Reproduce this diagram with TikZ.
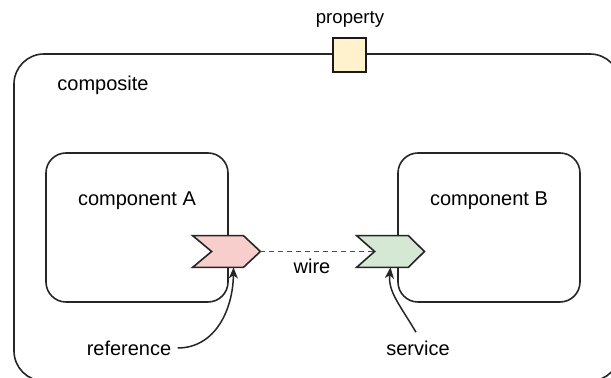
\documentclass[tikz,border=0pt]{standalone}
\usepackage{fontspec}
\setmainfont{Liberation Sans}
\usetikzlibrary{arrows.meta,calc}
\definecolor{refpink}{HTML}{F8CECC}
\definecolor{svcgreen}{HTML}{D5E8D4}
\definecolor{propyellow}{HTML}{FFF2CC}
\definecolor{wiregray}{HTML}{4D4D4D}
\tikzset{
  frame/.style={draw=black!85, line width=0.8pt, rounded corners=10pt, fill=none,
    minimum width=91pt, minimum height=74.5pt, inner sep=0pt},
  portbox/.style={draw=none, minimum width=33.5pt, minimum height=15.5pt, inner sep=0pt},
  portline/.style={draw=black!85, line width=0.8pt, line join=miter},
  txt/.style={inner sep=0pt, font=\fontsize{10}{12}\selectfont},
  callout/.style={draw=black!85, line width=0.75pt, -{Stealth[length=5.5pt,width=4.5pt,inset=1.5pt]}},
}
\begin{document}
\begin{tikzpicture}[x=0.5pt,y=-0.5pt]
\useasboundingbox (0,0) rectangle (611,378);
\clip (0,0) rectangle (611,378);
\fill[white] (0,0) rectangle (611,378);

% composite boundary (runs off the page to the right and bottom)
\draw[draw=black!85, line width=0.8pt, rounded corners=15pt] (14,54) rectangle (620,381);

% property on the composite edge
\node[draw=black!90, fill=propyellow, line width=0.8pt, minimum width=16.5pt, minimum height=17pt, inner sep=0pt] (prop) at (349.5,55) {};
\node[txt, font=\fontsize{9.3}{11}\selectfont] (proplabel) at (350,19) {property};
\node[txt] (complabel) at (103,85) {composite};

% components
\node[frame] (compA) at (137,227.5) {};
\node[frame] (compB) at (489,227.5) {};
\node[txt] (labelA) at (137,201) {component A};
\node[txt] (labelB) at (489,201) {component B};

% reference and service ports (chevrons)
\node[portbox] (refport) at (226.5,251.5) {};
\node[portbox] (svcport) at (390.5,251.5) {};
\filldraw[portline, fill=refpink]
  (refport.north west) -- ([xshift=-8.5pt]refport.north east) -- (refport.east)
  -- ([xshift=-8.5pt]refport.south east) -- (refport.south west)
  -- ([xshift=9.5pt]refport.west) -- cycle;
\filldraw[portline, fill=svcgreen]
  (svcport.north west) -- ([xshift=-8pt]svcport.north east) -- (svcport.east)
  -- ([xshift=-8pt]svcport.south east) -- (svcport.south west)
  -- ([xshift=9pt]svcport.west) -- cycle;

% wire between the ports
\coordinate (svcnotch) at ([xshift=9pt]svcport.west);
\draw[wiregray, line width=0.75pt, dash pattern=on 2.5pt off 2pt] (refport.east) -- (svcnotch);
\node[txt] (wirelabel) at (312,266) {wire};

% callouts
\node[txt] (reflabel) at (129,348) {reference};
\node[txt] (svclabel) at (418,348) {service};
\draw[callout] ([xshift=3pt]reflabel.east) .. controls (215,348) and (233,310) .. ([xshift=3.5pt]refport.south);
\draw[callout] ([xshift=-1pt,yshift=4pt]svclabel.north) .. controls (400,305) and (388,292) .. (svcport.south);
\end{tikzpicture}
\end{document}
